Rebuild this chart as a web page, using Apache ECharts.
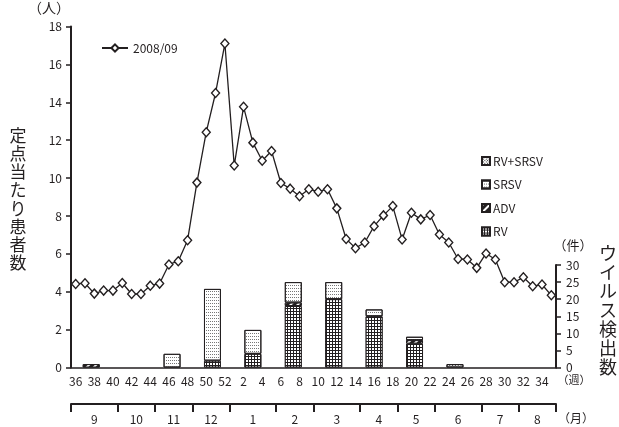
<!DOCTYPE html>
<html>
<head>
<meta charset="utf-8">
<style>
  html, body { margin: 0; padding: 0; background: #fff; }
  #chart { width: 619px; height: 427px; }
</style>
<script src="https://cdn.jsdelivr.net/npm/echarts@6/dist/echarts.min.js"></script>
</head>
<body>
<div id="chart"></div>
<script>
// Surveillance weeks, Sept 2008 - Aug 2009
const weeks = ['36','37','38','39','40','41','42','43','44','45','46','47','48','49','50','51','52',
  '1','2','3','4','5','6','7','8','9','10','11','12','13','14','15','16','17','18','19','20',
  '21','22','23','24','25','26','27','28','29','30','31','32','33','34','35'];

// Patients per sentinel site (人)
const patients = [4.41,4.45,3.90,4.06,4.06,4.46,3.88,3.88,4.32,4.43,5.44,5.61,6.72,9.76,12.42,14.49,17.10,
  10.66,13.76,11.87,10.91,11.43,9.74,9.44,9.04,9.41,9.28,9.41,8.40,6.78,6.30,6.60,7.46,8.03,8.52,6.76,
  8.17,7.82,8.05,7.02,6.60,5.73,5.70,5.26,6.02,5.70,4.50,4.50,4.76,4.29,4.38,3.81];

// Months and the number of surveillance weeks in each
const months = ['9','10','11','12','1','2','3','4','5','6','7','8'];
const weeksPerMonth = [5,4,4,4,5,4,5,4,4,5,4,4];

// Virus detections per month (件)
const rv     = [0,0,0,2,4,18,20,15,7,0,0,0];
const adv    = [1,0,0,0,0,1,0,0,1,0,0,0];
const srsv   = [0,0,4,21,7,6,5,2,1,0,0,0];
const rvSrsv = [0,0,0,0,0,0,0,0,0,1,0,0];

const INK = '#231f20';
const FONT = '"Noto Sans CJK JP", "Noto Sans", sans-serif';

// month boundaries and centres, in week units along the week axis
const monthEdges = [0];
weeksPerMonth.forEach(n => monthEdges.push(monthEdges[monthEdges.length - 1] + n));
const monthMids = weeksPerMonth.map((n, i) => monthEdges[i] + n / 2);

const noZero = arr => arr.map(v => (v === 0 ? '-' : v));

const barBase = {
  type: 'bar', stack: 'virus', xAxisIndex: 1, yAxisIndex: 1,
  barWidth: '42%', silent: true
};

const chart = echarts.init(document.getElementById('chart'), null, { renderer: 'canvas' });

chart.setOption({
  animation: false,
  backgroundColor: '#fff',
  textStyle: { fontFamily: FONT, color: INK },
  grid: [
    { left: 71, right: 63, top: 26.5, bottom: 59.5 },
    { left: 71, right: 63, top: 265, bottom: 59.5 }
  ],
  legend: [
    {
      data: ['2008/09'], left: 96, top: 37, itemWidth: 26, itemHeight: 9,
      textStyle: { fontSize: 12, color: INK, fontFamily: FONT }
    },
    {
      data: ['RV+SRSV', 'SRSV', 'ADV', 'RV'], orient: 'vertical', left: 476, top: 150,
      itemWidth: 8, itemHeight: 8, itemGap: 11.5, icon: 'rect',
      textStyle: { fontSize: 12, color: INK, fontFamily: FONT, padding: [0, 0, 0, -2] }
    }
  ],
  xAxis: [
    {
      type: 'category', gridIndex: 0, data: weeks, position: 'bottom',
      axisLine: { lineStyle: { color: INK, width: 1.5 } },
      axisTick: { interval: 0, length: 4, lineStyle: { color: INK, width: 1.2 } },
      axisLabel: { interval: 1, fontSize: 12, color: INK, margin: 8, fontFamily: FONT },
      splitLine: { show: false }
    },
    {
      type: 'category', gridIndex: 1, data: months, show: false
    },
    {
      type: 'value', gridIndex: 0, position: 'bottom', offset: 36.5,
      min: 0, max: monthEdges[monthEdges.length - 1],
      axisLine: { lineStyle: { color: INK, width: 2 } },
      axisTick: { customValues: monthEdges, length: 8, lineStyle: { color: INK, width: 2 } },
      axisLabel: {
        customValues: monthMids, fontSize: 12, color: INK, margin: 9, fontFamily: FONT,
        formatter: v => months[monthMids.indexOf(v)]
      },
      splitLine: { show: false }
    }
  ],
  yAxis: [
    {
      type: 'value', gridIndex: 0, min: 0, max: 18, interval: 2,
      axisLine: { show: true, lineStyle: { color: INK, width: 2 } },
      axisTick: { show: true, length: 5, lineStyle: { color: INK, width: 1.5 } },
      axisLabel: { fontSize: 12, color: INK, margin: 9, fontFamily: FONT },
      splitLine: { show: false }
    },
    {
      type: 'value', gridIndex: 1, position: 'right', min: 0, max: 30, interval: 5,
      axisLine: { show: true, lineStyle: { color: INK, width: 2 } },
      axisTick: { show: true, length: 5, lineStyle: { color: INK, width: 1.5 } },
      axisLabel: { fontSize: 12, color: INK, margin: 10, fontFamily: FONT },
      splitLine: { show: false }
    }
  ],
  series: [
    Object.assign({}, barBase, {
      name: 'RV', data: noZero(rv),
      itemStyle: {
        color: INK, borderColor: INK, borderWidth: 1,
        decal: { symbol: 'rect', symbolSize: 1, color: '#fff', dashArrayX: [2, 1], dashArrayY: [2, 1] }
      }
    }),
    Object.assign({}, barBase, {
      name: 'ADV', data: noZero(adv),
      itemStyle: {
        color: INK, borderColor: INK, borderWidth: 1,
        decal: { symbol: 'rect', symbolSize: 1, color: '#fff', rotation: -Math.PI / 4, dashArrayX: [1, 0], dashArrayY: [2, 3] }
      }
    }),
    Object.assign({}, barBase, {
      name: 'SRSV', data: noZero(srsv),
      itemStyle: {
        color: '#fff', borderColor: INK, borderWidth: 1,
        decal: { symbol: 'rect', symbolSize: 1, color: '#777', dashArrayX: [1, 1], dashArrayY: [1, 2] }
      }
    }),
    Object.assign({}, barBase, {
      name: 'RV+SRSV', data: noZero(rvSrsv),
      itemStyle: {
        color: '#fff', borderColor: INK, borderWidth: 1,
        decal: { symbol: 'rect', symbolSize: 1, color: '#333', rotation: Math.PI / 4, dashArrayX: [1, 1], dashArrayY: [1, 1] }
      }
    }),
    {
      name: '2008/09', type: 'line', xAxisIndex: 0, yAxisIndex: 0, data: patients,
      symbol: 'diamond', symbolSize: [8, 9], showAllSymbol: true, z: 5,
      lineStyle: { color: INK, width: 1.3 },
      itemStyle: { color: '#fff', borderColor: INK, borderWidth: 1.4 }
    }
  ],
  graphic: [
    { type: 'text', left: 28, top: 1, style: { text: '（人）', fontSize: 14, fill: INK, fontFamily: FONT } },
    {
      type: 'text', x: 18, y: 199,
      style: { text: '定点当たり患者数'.split('').join('\n'), fontSize: 17, lineHeight: 18.2,
        align: 'center', verticalAlign: 'middle', fill: INK, fontFamily: FONT }
    },
    {
      type: 'text', x: 608, y: 310,
      style: { text: 'ウイルス検出数'.split('').join('\n'), fontSize: 18, lineHeight: 19,
        align: 'center', verticalAlign: 'middle', fill: INK, fontFamily: FONT }
    },
    { type: 'text', x: 573, y: 245, style: { text: '（件）', fontSize: 13, align: 'center', verticalAlign: 'middle', fill: INK, fontFamily: FONT } },
    { type: 'text', x: 574, y: 380, style: { text: '（週）', fontSize: 11, align: 'center', verticalAlign: 'middle', fill: INK, fontFamily: FONT } },
    { type: 'text', x: 576, y: 418, style: { text: '（月）', fontSize: 12, align: 'center', verticalAlign: 'middle', fill: INK, fontFamily: FONT } }
  ]
});
</script>
</body>
</html>
